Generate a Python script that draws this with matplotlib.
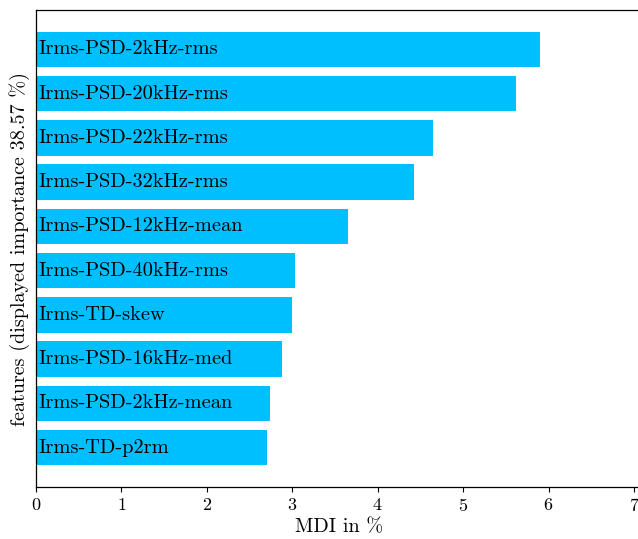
import matplotlib
matplotlib.use("Agg")
import matplotlib.pyplot as plt

plt.rcParams["font.family"] = ["cmr10", "DejaVu Serif"]
plt.rcParams["mathtext.fontset"] = "cm"
plt.rcParams["axes.unicode_minus"] = False
plt.rcParams["axes.formatter.use_mathtext"] = True

features = [
    "Irms-PSD-2kHz-rms",
    "Irms-PSD-20kHz-rms",
    "Irms-PSD-22kHz-rms",
    "Irms-PSD-32kHz-rms",
    "Irms-PSD-12kHz-mean",
    "Irms-PSD-40kHz-rms",
    "Irms-TD-skew",
    "Irms-PSD-16kHz-med",
    "Irms-PSD-2kHz-mean",
    "Irms-TD-p2rm",
]
mdi = [5.90, 5.62, 4.65, 4.42, 3.65, 3.03, 3.00, 2.88, 2.74, 2.70]
displayed_total = 38.57

W, H = 638, 539
fig = plt.figure(figsize=(W / 100, H / 100), dpi=100)
left, right, top, bottom = 36, 642.5, 10, 487
ax = fig.add_axes([left / W, 1 - bottom / H, (right - left) / W, (bottom - top) / H])

ypos = list(range(len(features)))[::-1]
ax.barh(ypos, mdi, height=0.8, color="#00BFFF")
for y, name in zip(ypos, features):
    ax.text(0.03, y, name, ha="left", va="center", fontsize=14.7, color="black")

ax.set_xlim(0, 7.1)
ax.set_xticks(range(0, 8))
ax.set_yticks([])
ax.tick_params(axis="x", labelsize=13, length=3.5, width=0.8)
ax.set_xlabel("MDI in %", fontsize=14.5, labelpad=3)
ax.set_ylabel(f"features (displayed importance {displayed_total:.2f} %)", fontsize=14.5, labelpad=4)
ax.spines["right"].set_visible(False)
for s in ["top", "left", "bottom"]:
    ax.spines[s].set_linewidth(0.9)

fig.savefig("out.png", dpi=100)
